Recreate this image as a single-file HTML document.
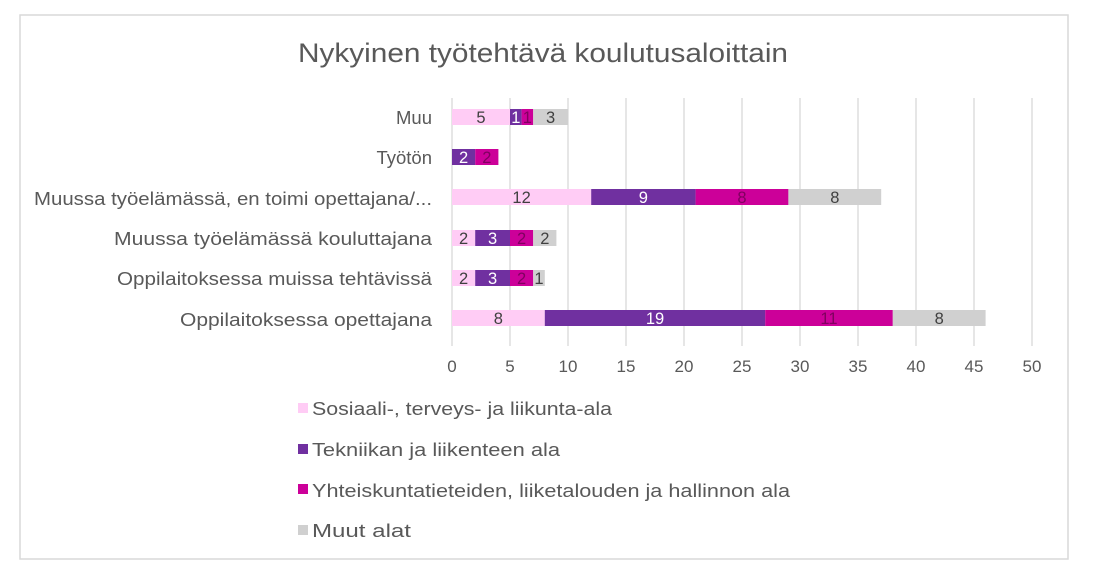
<!DOCTYPE html>
<html><head><meta charset="utf-8"><style>
html,body{margin:0;padding:0;background:#fff;}
svg{display:block;font-family:"Liberation Sans",sans-serif;}
</style></head><body>
<svg width="1093" height="573" viewBox="0 0 1093 573">
<rect x="20" y="15" width="1048" height="544" fill="#fff" stroke="#d9d9d9" stroke-width="1.5"/>
<text x="543" y="62" text-anchor="middle" font-size="27" fill="#595959" textLength="490" lengthAdjust="spacingAndGlyphs">Nykyinen työtehtävä koulutusaloittain</text>
<g stroke="#d9d9d9" stroke-width="1.3">
<line x1="452" y1="98" x2="452" y2="346"/><line x1="510" y1="98" x2="510" y2="346"/><line x1="568" y1="98" x2="568" y2="346"/><line x1="626" y1="98" x2="626" y2="346"/><line x1="684" y1="98" x2="684" y2="346"/><line x1="742" y1="98" x2="742" y2="346"/><line x1="800" y1="98" x2="800" y2="346"/><line x1="858" y1="98" x2="858" y2="346"/><line x1="916" y1="98" x2="916" y2="346"/><line x1="974" y1="98" x2="974" y2="346"/><line x1="1032" y1="98" x2="1032" y2="346"/>
</g>
<g font-size="17" fill="#595959" text-anchor="middle">
<text x="452" y="372">0</text><text x="510" y="372">5</text><text x="568" y="372">10</text><text x="626" y="372">15</text><text x="684" y="372">20</text><text x="742" y="372">25</text><text x="800" y="372">30</text><text x="858" y="372">35</text><text x="916" y="372">40</text><text x="974" y="372">45</text><text x="1032" y="372">50</text>
</g>
<g font-size="18.5" fill="#595959" text-anchor="end">
<text x="432" y="124">Muu</text>
<text x="432" y="164">Työtön</text>
<text x="432" y="205" textLength="398" lengthAdjust="spacingAndGlyphs">Muussa työelämässä, en toimi opettajana/...</text>
<text x="432" y="245" textLength="318" lengthAdjust="spacingAndGlyphs">Muussa työelämässä kouluttajana</text>
<text x="432" y="285" textLength="315" lengthAdjust="spacingAndGlyphs">Oppilaitoksessa muissa tehtävissä</text>
<text x="432" y="326" textLength="252" lengthAdjust="spacingAndGlyphs">Oppilaitoksessa opettajana</text>
</g>
<g>
<rect x="452" y="109" width="58" height="16" fill="#ffccf5"/><rect x="510" y="109" width="11.6" height="16" fill="#7030a0"/><rect x="521.6" y="109" width="11.6" height="16" fill="#cc0099"/><rect x="533.2" y="109" width="34.8" height="16" fill="#d0d0d0"/>
<rect x="452" y="149" width="23.2" height="16" fill="#7030a0"/><rect x="475.2" y="149" width="23.2" height="16" fill="#cc0099"/>
<rect x="452" y="189" width="139.2" height="16" fill="#ffccf5"/><rect x="591.2" y="189" width="104.4" height="16" fill="#7030a0"/><rect x="695.6" y="189" width="92.8" height="16" fill="#cc0099"/><rect x="788.4" y="189" width="92.8" height="16" fill="#d0d0d0"/>
<rect x="452" y="230" width="23.2" height="16" fill="#ffccf5"/><rect x="475.2" y="230" width="34.8" height="16" fill="#7030a0"/><rect x="510" y="230" width="23.2" height="16" fill="#cc0099"/><rect x="533.2" y="230" width="23.2" height="16" fill="#d0d0d0"/>
<rect x="452" y="270" width="23.2" height="16" fill="#ffccf5"/><rect x="475.2" y="270" width="34.8" height="16" fill="#7030a0"/><rect x="510" y="270" width="23.2" height="16" fill="#cc0099"/><rect x="533.2" y="270" width="11.6" height="16" fill="#d0d0d0"/>
<rect x="452" y="310" width="92.8" height="16" fill="#ffccf5"/><rect x="544.8" y="310" width="220.4" height="16" fill="#7030a0"/><rect x="765.2" y="310" width="127.6" height="16" fill="#cc0099"/><rect x="892.8" y="310" width="92.8" height="16" fill="#d0d0d0"/>
</g>
<g font-size="16.5" text-anchor="middle">
<text x="481" y="123" fill="#404040">5</text><text x="515.8" y="123" fill="#fff">1</text><text x="527.4" y="123" fill="#800060">1</text><text x="550.6" y="123" fill="#404040">3</text>
<text x="463.6" y="163" fill="#fff">2</text><text x="486.8" y="163" fill="#800060">2</text>
<text x="521.6" y="203" fill="#404040">12</text><text x="643.4" y="203" fill="#fff">9</text><text x="742" y="203" fill="#800060">8</text><text x="834.8" y="203" fill="#404040">8</text>
<text x="463.6" y="244" fill="#404040">2</text><text x="492.6" y="244" fill="#fff">3</text><text x="521.6" y="244" fill="#800060">2</text><text x="544.8" y="244" fill="#404040">2</text>
<text x="463.6" y="284" fill="#404040">2</text><text x="492.6" y="284" fill="#fff">3</text><text x="521.6" y="284" fill="#800060">2</text><text x="539" y="284" fill="#404040">1</text>
<text x="498.4" y="324" fill="#404040">8</text><text x="655" y="324" fill="#fff">19</text><text x="829" y="324" fill="#800060">11</text><text x="939.2" y="324" fill="#404040">8</text>
</g>
<g font-size="18.5" fill="#595959">
<rect x="298" y="403" width="10" height="10" fill="#ffccf5"/><text x="312" y="415" textLength="300" lengthAdjust="spacingAndGlyphs">Sosiaali-, terveys- ja liikunta-ala</text>
<rect x="298" y="444" width="10" height="10" fill="#7030a0"/><text x="312" y="456" textLength="248" lengthAdjust="spacingAndGlyphs">Tekniikan ja liikenteen ala</text>
<rect x="298" y="484" width="10" height="10" fill="#cc0099"/><text x="312" y="497" textLength="478" lengthAdjust="spacingAndGlyphs">Yhteiskuntatieteiden, liiketalouden ja hallinnon ala</text>
<rect x="298" y="525" width="10" height="10" fill="#d0d0d0"/><text x="312" y="537" textLength="99" lengthAdjust="spacingAndGlyphs">Muut alat</text>
</g>
</svg>
</body></html>
